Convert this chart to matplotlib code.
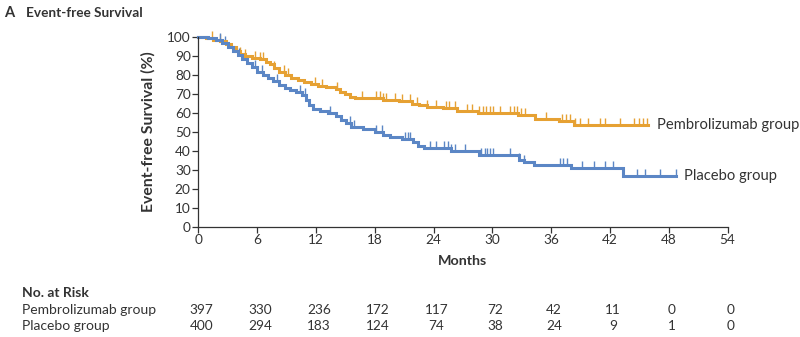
import matplotlib.pyplot as plt
import numpy as np

plt.rcParams['font.family'] = ['Lato', 'DejaVu Sans']

# step points (month of event, survival % after it); last entry is end of follow-up
pembro_t = [0, 0.8, 1.5, 2.2, 2.8, 3.3, 3.8, 4.3, 4.8, 5.5, 6.3, 6.9, 7.3, 7.7, 8.2,
            8.8, 9.5, 10.2, 10.8, 11.5, 12.2, 13.0, 14.0, 14.5, 15.0, 15.5, 16.0,
            18.8, 20.5, 21.8, 22.5, 23.3, 25.0, 26.4, 28.5, 32.6, 34.3, 36.8, 38.3, 45.9]
pembro_s = [100, 99.5, 98.5, 97.5, 96, 94.5, 92.5, 91, 89.8, 88.8, 88, 86.8, 85.5, 83.5, 81.5,
            80, 78.5, 77.2, 76, 75, 74.2, 73.5, 72.5, 71, 69.8, 68.5, 67.6,
            66.8, 66, 64.8, 63.8, 63, 62.3, 60.8, 59.8, 58.6, 56.8, 55.6, 53.5, 53.5]

placebo_t = [0, 1.0, 1.8, 2.4, 3.0, 3.5, 4.0, 4.5, 5.0, 5.5, 6.0, 6.6, 7.1, 7.6, 8.2,
             8.8, 9.4, 10.0, 10.6, 11.0, 11.3, 11.7, 12.4, 13.2, 14.0, 14.6, 15.1, 15.6,
             16.8, 18.0, 18.8, 19.6, 20.8, 21.9, 22.4, 23.0, 25.8, 28.6, 32.7, 33.2, 34.2,
             38.0, 43.3, 48.7]
placebo_s = [100, 99.3, 98, 96.8, 94.8, 92.5, 90.3, 88.2, 86, 83.8, 81.6, 80, 78.3, 76.5, 74.8,
             73.2, 72, 71, 69.5, 66.5, 64, 62, 60.8, 59.7, 58, 56.3, 54.5, 52.6,
             51.5, 50, 48.5, 47.2, 46.2, 44.5, 42.5, 41.2, 39.8, 37.8, 35.2, 34, 32.5,
             30.8, 26.8, 26.8]

# censoring times
pembro_cens = [1.4, 2.2, 4.3, 4.8, 5.8, 6.3, 6.6, 7.7, 8.7, 9.2, 11.9, 12.6, 14.1, 16.7,
               18.1, 18.5, 18.8, 19.1, 20.1, 20.8, 21.6, 22.3, 23.3, 24.2, 25.3, 25.6,
               26.2, 27.4, 27.9, 28.6, 29.0, 29.4, 29.8, 30.1, 30.8, 31.8, 32.2, 32.5,
               32.9, 33.3, 35.5, 37.1, 37.5, 37.9, 38.4, 38.9, 39.8, 41.0, 41.5, 43.0,
               44.4, 45.0, 45.4, 45.8]
placebo_cens = [2.2, 2.7, 4.2, 5.8, 6.5, 8.0, 10.4, 10.9, 13.4, 15.5, 15.9, 18.1, 18.7,
                21.1, 21.4, 21.6, 23.6, 24.3, 25.1, 25.5, 25.8, 26.2, 27.2, 28.8, 29.2,
                29.5, 29.8, 30.1, 31.8, 32.7, 33.2, 36.9, 37.2, 37.6, 39.1, 40.4, 41.5,
                42.3, 44.8, 45.6, 47.1, 48.7]

risk_months = [0, 6, 12, 18, 24, 30, 36, 42, 48, 54]
pembro_risk = [397, 330, 236, 172, 117, 72, 42, 11, 0, 0]
placebo_risk = [400, 294, 183, 124, 74, 38, 24, 9, 1, 0]

orange = '#E6A133'
blue = '#5B86C5'
dark = '#333333'

fig = plt.figure(figsize=(8, 3.37), dpi=100)
ax = fig.add_axes([0.2479, 0.3273, 0.6616, 0.5638])


def surv_at(ts, ss, c):
    i = np.searchsorted(ts, c, side='right') - 1
    return ss[i]


for ts, ss, cens, col in [(pembro_t, pembro_s, pembro_cens, orange),
                          (placebo_t, placebo_s, placebo_cens, blue)]:
    ax.step(ts, ss, where='post', color=col, lw=2.2, solid_joinstyle='miter', clip_on=False)
    cy = [surv_at(ts, ss, c) + 1.6 for c in cens]
    ax.scatter(cens, cy, marker='|', s=30, linewidths=1.0, color=col, clip_on=False)

ax.set_xlim(0, 54)
ax.set_ylim(0, 100)
ax.set_xticks(risk_months)
ax.set_yticks(range(0, 101, 10))
ax.tick_params(direction='out', length=4, width=0.9, color=dark, labelsize=9.8,
               labelcolor=dark, pad=1.5)
for side in ['top', 'right']:
    ax.spines[side].set_visible(False)
for side in ['left', 'bottom']:
    ax.spines[side].set_color(dark)
    ax.spines[side].set_linewidth(0.9)

ax.set_xlabel('Months', fontsize=10.3, fontweight='bold', color=dark, labelpad=6)
ax.set_ylabel('Event-free Survival (%)', fontsize=11.3, fontweight='bold', color=dark,
              labelpad=8)

ax.text(46.8, surv_at(pembro_t, pembro_s, 45.9), 'Pembrolizumab group', fontsize=10.6,
        color=dark, va='center', ha='left', clip_on=False)
ax.text(49.6, surv_at(placebo_t, placebo_s, 48.7), 'Placebo group', fontsize=10.6,
        color=dark, va='center', ha='left', clip_on=False)

fig.text(0.005, 0.962, 'A', fontsize=10.5, fontweight='bold', color=dark, va='center')
fig.text(0.032, 0.962, 'Event-free Survival', fontsize=9.8, fontweight='bold', color=dark,
         va='center')

# number at risk table
tr = ax.get_xaxis_transform()
fig.text(0.0275, 0.131, 'No. at Risk', fontsize=10, fontweight='bold', color=dark, va='center')
fig.text(0.0275, 0.080, 'Pembrolizumab group', fontsize=10, color=dark, va='center')
fig.text(0.0275, 0.032, 'Placebo group', fontsize=10, color=dark, va='center')
for m, a, b in zip(risk_months, pembro_risk, placebo_risk):
    ax.text(m + 0.3, -0.438, str(a), transform=tr, fontsize=9.8, color=dark,
            ha='center', va='center', clip_on=False)
    ax.text(m + 0.3, -0.523, str(b), transform=tr, fontsize=9.8, color=dark,
            ha='center', va='center', clip_on=False)

fig.savefig('out.png', dpi=100, facecolor='white')
